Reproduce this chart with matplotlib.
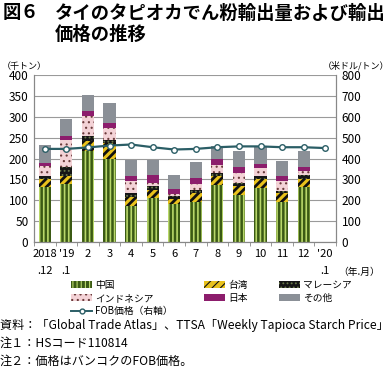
import matplotlib
matplotlib.use("Agg")
import matplotlib.pyplot as plt
from matplotlib.lines import Line2D
from matplotlib.patches import Patch
import numpy as np

plt.rcParams["font.family"] = ["Noto Sans CJK JP", "DejaVu Sans"]

# data (thousand tons, USD/ton)
months = ["2018\n.12", "'19\n.1", "2", "3", "4", "5", "6", "7", "8", "9",
          "10", "11", "12", "'20\n.1"]
china = [131, 138, 217, 198, 86, 105, 90, 97, 137, 113, 130, 97, 131]
taiwan = [19, 20, 24, 39, 21, 20, 12, 21, 20, 21, 20, 20, 19]
malaysia = [8, 21, 12, 8, 11, 9, 7, 7, 8, 8, 7, 6, 11]
indonesia = [23, 66, 49, 29, 29, 8, 5, 14, 19, 23, 20, 24, 10]
japan = [9, 9, 11, 11, 11, 19, 12, 14, 14, 14, 9, 10, 8]
other = [43, 40, 40, 48, 39, 36, 35, 38, 32, 38, 43, 37, 40]
fob_price = [446, 446, 453, 462, 467, 454, 443, 446, 454, 458, 458, 454, 454, 450]

W, H = 390, 374
fig = plt.figure(figsize=(W / 100, H / 100), dpi=100)


def px(x, y):
    return x / W, 1 - y / H


ax = fig.add_axes([34 / W, 1 - 242 / H, 302 / W, 167 / H])
ax2 = ax.twinx()

x_bars = np.arange(len(china))
x_line = np.arange(len(months))

series = [
    (china, "中国", "#3b5a14", "#b9d86a", "||||", 1.2),
    (taiwan, "台湾", "#e9c21c", "#111111", "////", 2.0),
    (malaysia, "マレーシア", "#161616", "#6a7a4a", "....", 0.8),
    (indonesia, "インドネシア", "#f3d2d6", "#6a3b3b", "...", 0.8),
    (japan, "日本", "#8c1d6c", None, None, 0),
    (other, "その他", "#8b9097", None, None, 0),
]

bottom = np.zeros(len(china))
handles = {}
for vals, name, fc, hc, hatch, hlw in series:
    if hatch:
        plt.rcParams["hatch.linewidth"] = hlw
        ax.bar(x_bars, vals, 0.56, bottom=bottom, color=fc, edgecolor=hc,
               hatch=hatch, linewidth=0, zorder=2)
        handles[name] = Patch(facecolor=fc, edgecolor=hc, hatch=hatch,
                              linewidth=0, label=name)
    else:
        ax.bar(x_bars, vals, 0.56, bottom=bottom, color=fc, linewidth=0,
               zorder=2)
        handles[name] = Patch(facecolor=fc, linewidth=0, label=name)
    bottom += np.array(vals)

ax2.plot(x_line, fob_price, color="#2b5e66", lw=1.6, marker="o", ms=4,
         mfc="white", mec="#2b5e66", mew=1.0, zorder=5)
handles["FOB"] = Line2D([], [], color="#2b5e66", lw=1.4, marker="o", ms=3.5,
                        mfc="white", mec="#2b5e66", label="FOB価格（右軸）")

ax.set_xlim(-0.5, len(months) - 0.5)
ax.set_ylim(0, 400)
ax.set_yticks(range(0, 401, 50))
ax2.set_ylim(0, 800)
ax2.set_yticks(range(0, 801, 100))
ax.grid(axis="y", color="#9a9a9a", lw=0.8, zorder=0)
ax.set_axisbelow(True)

ax.set_xticks(x_line)
ax.set_xticklabels(months, fontsize=8, linespacing=1.9, va="top")
ax.set_xticks(np.arange(-0.5, len(months)), minor=True)
ax.tick_params(axis="x", which="major", length=0, pad=5)
ax.tick_params(axis="x", which="minor", length=3, color="#888888")
ax.tick_params(axis="y", length=0, labelsize=8.5, pad=4)
ax2.tick_params(axis="y", length=0, labelsize=8.5, pad=4)

for a in (ax, ax2):
    a.spines["top"].set_visible(False)
    for s in ("left", "right", "bottom"):
        a.spines[s].set_color("#888888")
        a.spines[s].set_linewidth(0.8)

# title
fig.text(*px(3, 13), "図６", fontsize=13.2, fontweight="bold", va="center")
fig.text(*px(55, 13), "タイのタピオカでん粉輸出量および輸出", fontsize=13.2,
         fontweight="bold", va="center")
fig.text(*px(55, 34), "価格の推移", fontsize=13.2, fontweight="bold",
         va="center")

fig.text(*px(2, 66), "（千トン）", fontsize=6.5, va="center")
fig.text(*px(389, 66), "（米ドル/トン）", fontsize=6.5, va="center",
         ha="right")
fig.text(*px(338, 272), "（年.月）", fontsize=7, va="center")

order = ["中国", "インドネシア", "FOB", "台湾", "日本", "マレーシア", "その他"]
fig.legend([handles[k] for k in order], [handles[k].get_label() for k in order],
           ncol=3, loc="upper left", bbox_to_anchor=px(71, 280), frameon=False,
           fontsize=7, handlelength=2.2, handleheight=0.6, handletextpad=0.3,
           columnspacing=3.2, labelspacing=0.3, borderaxespad=0,
           borderpad=0)

notes = [
    (325, "資料：「Global Trade Atlas」、TTSA「Weekly Tapioca Starch Price」"),
    (343, "注１：HSコード110814"),
    (361, "注２：価格はバンコクのFOB価格。"),
]
for y, t in notes:
    fig.text(*px(0, y), t, fontsize=8.7, va="center")

fig.savefig("out.png", dpi=100)
